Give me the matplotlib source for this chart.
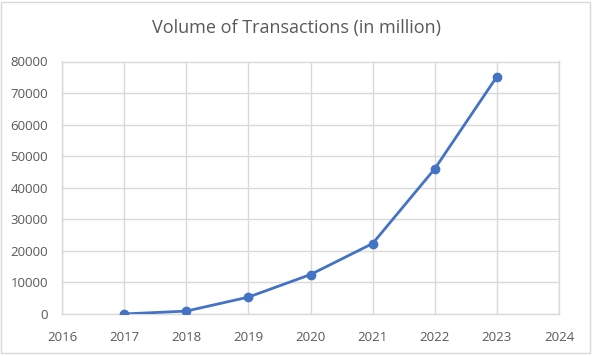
import matplotlib
matplotlib.use("Agg")
import matplotlib.pyplot as plt
from matplotlib.patches import Rectangle

years = [2017, 2018, 2019, 2020, 2021, 2022, 2023]
volume = [18, 915, 5350, 12500, 22330, 46000, 75200]
x_ticks = [2016, 2017, 2018, 2019, 2020, 2021, 2022, 2023, 2024]
y_ticks = [0, 10000, 20000, 30000, 40000, 50000, 60000, 70000, 80000]
title = "Volume of Transactions (in million)"

plt.rcParams['font.family'] = ['Open Sans', 'DejaVu Sans']

fig = plt.figure(figsize=(5.93, 3.56), dpi=100)
ax = fig.add_axes([62/593, 1-314/356, (559-62)/593, (314-61.5)/356])

ax.plot(years, volume, color='#4472C4', lw=2.0, marker='o', ms=6,
        markerfacecolor='#4472C4', markeredgecolor='#4472C4', zorder=3,
        solid_capstyle='round')

ax.set_xlim(x_ticks[0], x_ticks[-1])
ax.set_ylim(y_ticks[0], y_ticks[-1])
ax.set_xticks(x_ticks)
ax.set_yticks(y_ticks)
ax.set_xticklabels([str(v) for v in x_ticks])
ax.set_yticklabels([str(v) for v in y_ticks])
ax.grid(True, color='#d9d9d9', lw=1.0)
ax.set_axisbelow(True)
for s in ax.spines.values():
    s.set_color('#d9d9d9')
    s.set_linewidth(1.0)
ax.tick_params(length=0, labelsize=9.5, colors='#595959')
ax.tick_params(axis='y', pad=10)
ax.tick_params(axis='x', pad=12)

fig.text(0.5, 1-28/356, title, ha='center', va='center', fontsize=13,
         color='#595959')

fig.patches.append(Rectangle((1/593, 1-353/356), 589/593, 351/356,
                             transform=fig.transFigure, fill=False,
                             edgecolor='#d9d9d9', lw=1.0))

fig.savefig('out.png', dpi=100)
